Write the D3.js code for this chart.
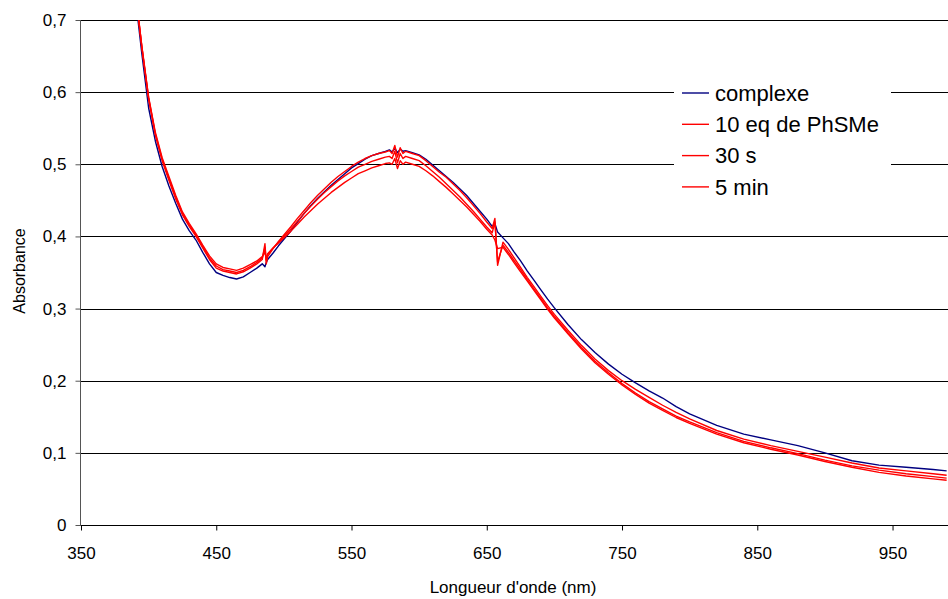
<!DOCTYPE html>
<html>
<head>
<meta charset="utf-8">
<script src="https://cdn.jsdelivr.net/npm/d3@7"></script>
<style>
  html, body { margin: 0; padding: 0; background: #fff; }
  svg { display: block; font-family: "Liberation Sans", Arial, sans-serif; }
</style>
</head>
<body>
<svg id="chart" width="948" height="599"></svg>
<script>
// Wavelengths (nm)
const wavelengths = [385,390,395,400,405,410,415,420,425,430,435,440,445,450,455,460,465,470,475,480,
  484,486,487,488,492,496,
  500,505,510,515,520,525,530,535,540,545,550,555,560,565,570,575,
  578,580,582,584,586,588,590,
  595,600,605,610,615,620,625,630,635,640,645,650,
  654,656,658,662,666,
  670,675,680,685,690,695,700,
  710,720,730,740,750,760,770,780,790,800,
  820,840,860,880,900,920,940,960,980,990];

const complexe = [0.780,0.735,0.653,0.578,0.532,0.497,0.470,0.446,0.424,0.408,0.395,0.378,0.362,0.350,0.346,0.343,0.341,0.344,0.350,0.356,
  0.362,0.358,0.364,0.368,0.377,0.387,
  0.396,0.407,0.420,0.432,0.443,0.453,0.462,0.471,0.479,0.487,0.495,0.501,0.507,0.512,0.515,0.518,
  0.520,0.517,0.522,0.516,0.521,0.518,0.519,
  0.516,0.513,0.507,0.499,0.491,0.483,0.475,0.466,0.457,0.446,0.435,0.424,
  0.414,0.418,0.406,0.398,0.390,
  0.379,0.366,0.352,0.339,0.326,0.313,0.301,
  0.278,0.257,0.239,0.223,0.209,0.197,0.186,0.176,0.164,0.154,
  0.138,0.126,0.118,0.110,0.100,0.089,0.083,0.080,0.077,0.075];

const eq10 = [0.790,0.745,0.662,0.590,0.540,0.505,0.478,0.452,0.430,0.414,0.400,0.384,0.368,0.356,0.352,0.350,0.348,0.351,0.356,0.362,
  0.368,0.390,0.362,0.372,0.383,0.393,
  0.402,0.413,0.425,0.436,0.447,0.457,0.466,0.475,0.483,0.490,0.497,0.503,0.508,0.512,0.515,0.517,
  0.519,0.515,0.526,0.510,0.523,0.515,0.518,
  0.515,0.512,0.505,0.497,0.489,0.482,0.473,0.464,0.454,0.443,0.432,0.420,
  0.411,0.425,0.360,0.392,0.382,
  0.371,0.357,0.343,0.330,0.317,0.304,0.292,
  0.270,0.249,0.230,0.214,0.200,0.188,0.177,0.166,0.156,0.147,
  0.131,0.119,0.110,0.102,0.094,0.086,0.079,0.075,0.071,0.069];

const s30 = [0.790,0.743,0.662,0.592,0.542,0.507,0.480,0.455,0.432,0.416,0.402,0.386,0.370,0.359,0.354,0.352,0.350,0.353,0.358,0.364,
  0.370,0.385,0.366,0.375,0.384,0.392,
  0.400,0.410,0.421,0.432,0.442,0.452,0.461,0.469,0.477,0.484,0.490,0.496,0.500,0.504,0.507,0.510,
  0.511,0.508,0.518,0.502,0.515,0.508,0.511,
  0.508,0.505,0.498,0.490,0.482,0.473,0.464,0.455,0.445,0.435,0.424,0.413,
  0.405,0.420,0.365,0.388,0.378,
  0.367,0.354,0.340,0.327,0.314,0.301,0.289,
  0.267,0.246,0.227,0.211,0.196,0.183,0.171,0.161,0.151,0.143,
  0.128,0.116,0.107,0.099,0.090,0.082,0.076,0.071,0.067,0.065];

const min5 = [0.790,0.741,0.664,0.593,0.544,0.509,0.483,0.457,0.434,0.418,0.404,0.388,0.373,0.362,0.357,0.355,0.353,0.356,0.361,0.366,
  0.372,0.378,0.368,0.376,0.384,0.391,
  0.398,0.407,0.417,0.427,0.436,0.445,0.453,0.461,0.468,0.475,0.481,0.487,0.491,0.495,0.498,0.501,
  0.502,0.500,0.508,0.494,0.505,0.500,0.503,
  0.500,0.497,0.491,0.484,0.476,0.468,0.459,0.450,0.441,0.431,0.421,0.410,
  0.402,0.395,0.383,0.385,0.375,
  0.364,0.351,0.338,0.325,0.312,0.299,0.287,
  0.265,0.244,0.225,0.209,0.194,0.181,0.169,0.159,0.149,0.141,
  0.126,0.114,0.105,0.097,0.088,0.080,0.073,0.068,0.064,0.062];

const seriesNames = ["complexe", "10 eq de PhSMe", "30 s", "5 min"];
const seriesColors = ["#000080", "#ff0000", "#ff0000", "#ff0000"];
const seriesValues = [complexe, eq10, s30, min5];

const xTicks = [350, 450, 550, 650, 750, 850, 950];
const yTicks = [0, 0.1, 0.2, 0.3, 0.4, 0.5, 0.6, 0.7];
const xTitle = "Longueur d'onde (nm)";
const yTitle = "Absorbance";

(function () {
const svg = d3.select("#chart");
const pLeft = 80.5, pRight = 948, pTop = 20, pBottom = 525;

const x = d3.scaleLinear().domain([350, 991]).range([81, 948]);
const y = d3.scaleLinear().domain([0, 0.7]).range([pBottom, pTop]);

const fr = d3.formatLocale({decimal: ",", thousands: ".", grouping: [3], currency: ["", "€"]});
const fmt = fr.format(".1~f");

// Gridlines
svg.append("g").selectAll("line").data(yTicks.filter(d => d > 0)).join("line")
  .attr("x1", pLeft).attr("x2", pRight)
  .attr("y1", d => Math.round(y(d)) + 0.5).attr("y2", d => Math.round(y(d)) + 0.5)
  .attr("stroke", "#000").attr("stroke-width", 1);

// Clip
svg.append("clipPath").attr("id", "plotclip").append("rect")
  .attr("x", 81).attr("y", pTop).attr("width", pRight - 81).attr("height", pBottom - pTop);

// Lines
const line = d3.line().x(d => x(d[0])).y(d => y(d[1]));
const gLines = svg.append("g").attr("clip-path", "url(#plotclip)");
seriesValues.forEach((vals, i) => {
  const pts = wavelengths.map((w, j) => [w, vals[j]]);
  gLines.append("path").datum(pts)
    .attr("fill", "none")
    .attr("stroke", seriesColors[i])
    .attr("stroke-width", 1.4)
    .attr("stroke-linejoin", "round")
    .attr("d", line);
});

// Y axis
const yAxis = svg.append("g").attr("transform", `translate(${pLeft},0)`)
  .call(d3.axisLeft(y).tickValues(yTicks).tickFormat(fmt).tickSize(5).tickPadding(9));
yAxis.select(".domain").attr("stroke", "#555").attr("d", `M0,${pTop}V${pBottom}`);
yAxis.selectAll(".tick line").attr("stroke", "#555");
yAxis.selectAll("text").attr("font-size", 17).attr("fill", "#000")
  .attr("font-family", "'Liberation Sans', Arial, sans-serif");

// X axis
const xAxis = svg.append("g").attr("transform", `translate(0,${pBottom + 0.5})`)
  .call(d3.axisBottom(x).tickValues(xTicks).tickFormat(d3.format("d")).tickSize(5).tickPadding(9));
xAxis.select(".domain").attr("stroke", "#000").attr("d", `M${pLeft},0H${pRight}`);
xAxis.selectAll(".tick line").attr("stroke", "#000");
xAxis.selectAll("text").attr("font-size", 17).attr("fill", "#000")
  .attr("font-family", "'Liberation Sans', Arial, sans-serif")
  .attr("dy", null).attr("y", 33.5);

// Axis titles
svg.append("text").attr("x", 513).attr("y", 593).attr("text-anchor", "middle")
  .attr("font-size", 17).text(xTitle);
svg.append("text").attr("transform", "translate(25,271) rotate(-90)")
  .attr("text-anchor", "middle").attr("font-size", 16).text(yTitle);

// Legend
const lg = svg.append("g");
lg.append("rect").attr("x", 674).attr("y", 76).attr("width", 217).attr("height", 128).attr("fill", "#fff");
seriesNames.forEach((name, i) => {
  const cy = 93 + i * 31.3;
  lg.append("line").attr("x1", 682).attr("x2", 709).attr("y1", cy).attr("y2", cy)
    .attr("stroke", seriesColors[i]).attr("stroke-width", 1.4);
  lg.append("text").attr("x", 715).attr("y", cy).attr("dy", "0.35em")
    .attr("font-size", 22).text(name);
});
})();
</script>
</body>
</html>
